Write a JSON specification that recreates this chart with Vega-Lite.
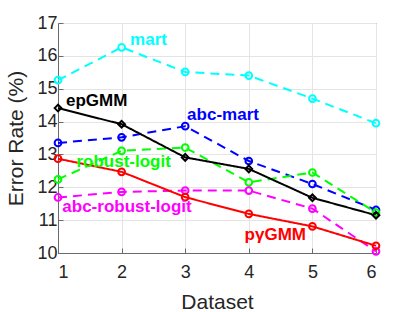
{
  "$schema": "https://vega.github.io/schema/vega-lite/v6.json",
  "width": 318,
  "height": 230,
  "autosize": {"type": "none"},
  "padding": {"left": 58, "top": 23, "right": 39, "bottom": 59},
  "background": "white",
  "config": {
    "view": {"stroke": "#6b6b6b", "strokeWidth": 1},
    "font": "Liberation Sans",
    "axis": {
      "labelFont": "Liberation Sans",
      "titleFont": "Liberation Sans",
      "labelFontSize": 18,
      "titleFontSize": 21,
      "titleFontWeight": "normal",
      "labelColor": "#262626",
      "titleColor": "#262626",
      "domainColor": "#6b6b6b",
      "tickColor": "#6b6b6b",
      "gridColor": "#e4e4e4",
      "tickSize": -5
    }
  },
  "datasets": {
    "lines": [
      {"series": "mart", "dataset": 1, "err": 15.26},
      {"series": "mart", "dataset": 2, "err": 16.26},
      {"series": "mart", "dataset": 3, "err": 15.51},
      {"series": "mart", "dataset": 4, "err": 15.40},
      {"series": "mart", "dataset": 5, "err": 14.70},
      {"series": "mart", "dataset": 6, "err": 13.95},
      {"series": "abc-mart", "dataset": 1, "err": 13.35},
      {"series": "abc-mart", "dataset": 2, "err": 13.52},
      {"series": "abc-mart", "dataset": 3, "err": 13.86},
      {"series": "abc-mart", "dataset": 4, "err": 12.80},
      {"series": "abc-mart", "dataset": 5, "err": 12.10},
      {"series": "abc-mart", "dataset": 6, "err": 11.31},
      {"series": "robust-logit", "dataset": 1, "err": 12.24},
      {"series": "robust-logit", "dataset": 2, "err": 13.11},
      {"series": "robust-logit", "dataset": 3, "err": 13.21},
      {"series": "robust-logit", "dataset": 4, "err": 12.15},
      {"series": "robust-logit", "dataset": 5, "err": 12.45},
      {"series": "robust-logit", "dataset": 6, "err": 11.23},
      {"series": "abc-robust-logit", "dataset": 1, "err": 11.69},
      {"series": "abc-robust-logit", "dataset": 2, "err": 11.86},
      {"series": "abc-robust-logit", "dataset": 3, "err": 11.90},
      {"series": "abc-robust-logit", "dataset": 4, "err": 11.90},
      {"series": "abc-robust-logit", "dataset": 5, "err": 11.35},
      {"series": "abc-robust-logit", "dataset": 6, "err": 10.05},
      {"series": "pγGMM", "dataset": 1, "err": 12.87},
      {"series": "pγGMM", "dataset": 2, "err": 12.47},
      {"series": "pγGMM", "dataset": 3, "err": 11.70},
      {"series": "pγGMM", "dataset": 4, "err": 11.19},
      {"series": "pγGMM", "dataset": 5, "err": 10.81},
      {"series": "pγGMM", "dataset": 6, "err": 10.22},
      {"series": "epGMM", "dataset": 1, "err": 14.41},
      {"series": "epGMM", "dataset": 2, "err": 13.92},
      {"series": "epGMM", "dataset": 3, "err": 12.91},
      {"series": "epGMM", "dataset": 4, "err": 12.56},
      {"series": "epGMM", "dataset": 5, "err": 11.68},
      {"series": "epGMM", "dataset": 6, "err": 11.15}
    ],
    "labels": [
      {"series": "mart", "dataset": 2.134, "err": 16.34},
      {"series": "epGMM", "dataset": 1.126, "err": 14.48},
      {"series": "abc-mart", "dataset": 3.03, "err": 14.05},
      {"series": "robust-logit", "dataset": 1.29, "err": 12.63},
      {"series": "abc-robust-logit", "dataset": 1.068, "err": 11.26},
      {"series": "pγGMM", "dataset": 3.934, "err": 10.39}
    ]
  },
  "encoding": {
    "x": {
      "field": "dataset", "type": "quantitative",
      "scale": {"domain": [1, 6], "nice": false, "zero": false},
      "axis": {"values": [1, 2, 3, 4, 5, 6], "title": "Dataset", "labelPadding": 15, "titlePadding": 10, "format": "d"}
    },
    "y": {
      "field": "err", "type": "quantitative",
      "scale": {"domain": [10, 17], "nice": false, "zero": false},
      "axis": {"values": [10, 11, 12, 13, 14, 15, 16, 17], "title": "Error Rate (%)", "labelPadding": 6, "titlePadding": 10, "format": "d"}
    },
    "color": {
      "field": "series", "type": "nominal", "legend": null,
      "scale": {
        "domain": ["mart", "abc-mart", "robust-logit", "abc-robust-logit", "pγGMM", "epGMM"],
        "range": ["#00ffff", "#0000ff", "#00ff00", "#ff00ff", "#ff0000", "#000000"]
      }
    }
  },
  "layer": [
    {
      "data": {"name": "lines"},
      "mark": {"type": "line", "strokeWidth": 2},
      "encoding": {
        "strokeDash": {
          "field": "series", "type": "nominal", "legend": null,
          "scale": {
            "domain": ["mart", "abc-mart", "robust-logit", "abc-robust-logit", "pγGMM", "epGMM"],
            "range": [[9, 6], [9, 6], [9, 6], [9, 6], [1, 0], [1, 0]]
          }
        }
      }
    },
    {
      "data": {"name": "lines"},
      "mark": {"type": "point", "filled": false, "strokeWidth": 2, "size": 45, "opacity": 1},
      "encoding": {
        "shape": {
          "field": "series", "type": "nominal", "legend": null,
          "scale": {
            "domain": ["mart", "abc-mart", "robust-logit", "abc-robust-logit", "pγGMM", "epGMM"],
            "range": ["circle", "circle", "circle", "circle", "circle", "diamond"]
          }
        }
      }
    },
    {
      "data": {"name": "labels"},
      "mark": {"type": "text", "align": "left", "baseline": "alphabetic", "fontSize": 17, "fontWeight": "bold", "font": "Liberation Sans"},
      "encoding": {
        "text": {"field": "series"}
      }
    }
  ]
}
